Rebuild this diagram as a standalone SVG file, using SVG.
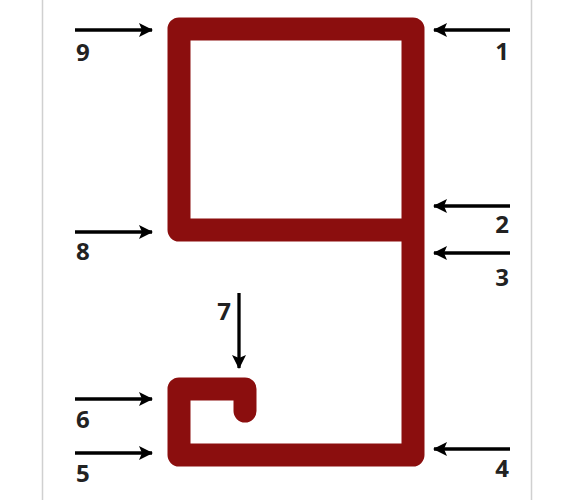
<svg xmlns="http://www.w3.org/2000/svg" width="585" height="500" viewBox="0 0 585 500">
<defs>
<marker id="ah" markerUnits="userSpaceOnUse" markerWidth="16" markerHeight="16" viewBox="0 0 16 16" refX="14" refY="8" orient="auto">
<path d="M1,1 L15,8 L1,15 L4,8 Z" fill="#000"/>
</marker>
<style>
.arr{stroke:#000;stroke-width:3.3;fill:none;marker-end:url(#ah)}
.lbl{font-family:"Open Sans","DejaVu Sans",sans-serif;font-weight:bold;font-size:24px;fill:#222}
.shape{fill:none;stroke:#8b0e0e;stroke-width:23;stroke-linejoin:round;stroke-linecap:round}
.frame{stroke:#d0d0d0;stroke-width:1.5}
</style>
</defs>
<rect width="585" height="500" fill="#fff"/>
<line class="frame" x1="42.5" y1="0" x2="42.5" y2="500"/>
<line class="frame" x1="531.5" y1="0" x2="531.5" y2="500"/>
<g id="profile">
<path class="shape" d="M245,411 L245,389 L179,389 L179,455 L413,455 L413,29 L179,29 L179,230 L413,230"/>
</g>
<g id="connectors">
<line class="arr" x1="75" y1="30" x2="152" y2="30"/>
<line class="arr" x1="510" y1="30" x2="434" y2="30"/>
<line class="arr" x1="510" y1="206" x2="434" y2="206"/>
<line class="arr" x1="510" y1="253" x2="434" y2="253"/>
<line class="arr" x1="510" y1="449" x2="434" y2="449"/>
<line class="arr" x1="75" y1="453" x2="152" y2="453"/>
<line class="arr" x1="75" y1="399" x2="152" y2="399"/>
<line class="arr" x1="239" y1="293" x2="239" y2="368"/>
<line class="arr" x1="75" y1="232" x2="152" y2="232"/>
</g>
<g id="label-1"><text class="lbl" x="509" y="60" text-anchor="end">1</text></g>
<g id="label-2"><text class="lbl" x="509" y="233" text-anchor="end">2</text></g>
<g id="label-3"><text class="lbl" x="509" y="286" text-anchor="end">3</text></g>
<g id="label-4"><text class="lbl" x="509" y="477" text-anchor="end">4</text></g>
<g id="label-5"><text class="lbl" x="76" y="482">5</text></g>
<g id="label-6"><text class="lbl" x="76" y="428">6</text></g>
<g id="label-7"><text class="lbl" x="231" y="320" text-anchor="end">7</text></g>
<g id="label-8"><text class="lbl" x="76" y="260">8</text></g>
<g id="label-9"><text class="lbl" x="76" y="61">9</text></g>
</svg>
